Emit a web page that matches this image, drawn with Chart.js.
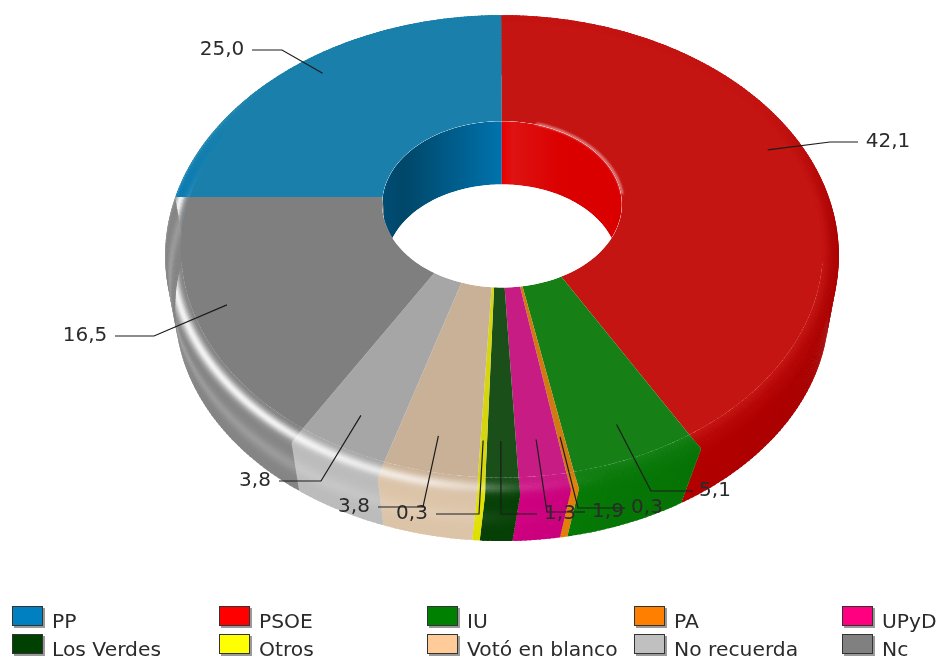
<!DOCTYPE html>
<html>
<head>
<meta charset="utf-8">
<title>Recuerdo de voto</title>
<script src="https://cdn.jsdelivr.net/npm/chart.js@4"></script>
<style>
  html, body { margin: 0; padding: 0; background: #fff; overflow: hidden; }
  canvas { display: block; }
</style>
</head>
<body>
<canvas id="pieChart" width="938" height="657"></canvas>
<script>
// Data
const categories = ['PP', 'PSOE', 'IU', 'PA', 'UPyD', 'Los Verdes', 'Otros', 'Votó en blanco', 'No recuerda', 'Nc'];
const values = [25.0, 42.1, 5.1, 0.3, 1.9, 1.3, 0.3, 3.8, 3.8, 16.5];
const valueLabels = ['25,0', '42,1', '5,1', '0,3', '1,9', '1,3', '0,3', '3,8', '3,8', '16,5'];

// Colours
const legendColors = ['#0080c0', '#ff0000', '#008000', '#ff8000', '#ff0080', '#004000', '#ffff00', '#ffcc99', '#c0c0c0', '#808080'];
const surfaceColors = ['#1a80ab', '#c41513', '#168016', '#d07a10', '#c81c85', '#1a4f1a', '#d6d60f', '#c9b197', '#a6a6a6', '#7f7f7f'];
const wallColors = ['#0078b4', '#c00000', '#067c06', '#e8820a', '#cf0080', '#064006', '#e0e000', '#dcc4a8', '#bcbcbc', '#858585'];

// Leader lines: elbow x, text-side end x, y of the horizontal part, text centre x
const leaderLayout = [
  [282, 252, 50, 222],
  [830, 858, 142, 888],
  [651, 693, 491, 715],
  [578, 625, 508, 647],
  [547, 585, 512, 608],
  [501, 537, 514, 560],
  [479, 436, 514, 412],
  [423, 378, 507, 354],
  [321, 279, 481, 255],
  [154, 115, 336, 85]
];

// Perspective of the disc
const CX = 502, CY = 197, FX = 327, FY = 226, PERSP = 0.2417;
const SHRINK = 0.97, BOTTOM_Y = 252, HOLE_BOTTOM_Y = 258;
const FLAT_R = 0.955;
const CUTOUT = 0.365;
const DEG = Math.PI / 180;

function clockDeg(a) {
  return ((a + Math.PI / 2) / DEG + 720) % 360;
}

function lerpTable(table, x) {
  for (let i = 1; i < table.length; i++) {
    if (x <= table[i][0]) {
      const [x0, y0] = table[i - 1], [x1, y1] = table[i];
      return y0 + (y1 - y0) * (x - x0) / (x1 - x0);
    }
  }
  return 0;
}

// small angle corrections so the wedges fall where the reference has them
const surfaceWarp = [[0, 0], [90, 0], [150, 1.5], [210, 1], [270, 0], [360, 0]];
const wallWarp = [[0, 0], [90, 0], [150, 2.5], [170, 1.3], [185, 0.7], [197, -0.3], [270, 0], [360, 0]];

function project(r, a) {
  const fade = Math.max(0, (1 - r) / 0.635);
  const b = a + lerpTable(surfaceWarp, clockDeg(a)) * fade * DEG;
  const u = r * Math.cos(b), v = r * Math.sin(b);
  const w = 1 - PERSP * v;
  return [CX + FX * u / w, CY + FY * v / w];
}

function lower(p, baseY) {
  return [CX + (p[0] - CX) * SHRINK, baseY + (p[1] - CY) * SHRINK];
}

function rgb(hex) {
  return [1, 3, 5].map(i => parseInt(hex.substr(i, 2), 16));
}
function mix(c1, c2, t) {
  return c1.map((c, i) => c + (c2[i] - c) * t);
}
function scale(c, f) {
  return c.map(v => Math.min(255, v * f));
}
function css(c) {
  return 'rgb(' + c.map(Math.round).join(',') + ')';
}
function clamp(x) {
  return Math.max(0, Math.min(1, x));
}

function fillPoly(ctx, pts, color) {
  ctx.beginPath();
  pts.forEach((p, i) => i ? ctx.lineTo(p[0], p[1]) : ctx.moveTo(p[0], p[1]));
  ctx.closePath();
  ctx.fillStyle = color;
  ctx.fill();
}

// White highlight along the rim, strongest on the lower left
const highlightTable = [[0, 0], [165, 0], [178, 0.12], [190, 0.6], [215, 0.9], [270, 0.9], [305, 0], [360, 0]];

function rimColor(i, a, p) {
  const surface = rgb(surfaceColors[i]);
  const u = Math.cos(a), v = Math.sin(a);
  const wall = scale(rgb(wallColors[i]), 1 - 0.14 * clamp(u));
  const front = clamp((v + 0.45) / 0.6);
  let c;
  if (p < 0.2) c = mix(surface, mix(surface, wall, 0.6), p / 0.2);
  else if (p < 0.5) c = mix(mix(surface, wall, 0.6), wall, (p - 0.2) / 0.3);
  else c = wall;
  c = mix(surface, c, front);
  const h = lerpTable(highlightTable, clockDeg(a));
  const glow = h * Math.exp(-Math.pow((p - 0.22) / 0.12, 2)) + 0.2 * h * Math.exp(-Math.pow((p - 0.68) / 0.1, 2));
  return mix(c, [255, 255, 255], clamp(glow));
}

function rimPoint(a, p) {
  if (p <= 0.4) return project(FLAT_R + (1 - FLAT_R) * p / 0.4, a);
  const top = project(1, a);
  const bot = lower(project(1, a + lerpTable(wallWarp, clockDeg(a)) * DEG), BOTTOM_Y);
  const t = (p - 0.4) / 0.6;
  return [top[0] + (bot[0] - top[0]) * t, top[1] + (bot[1] - top[1]) * t];
}

function holeShade(i, u) {
  const base = rgb(legendColors[i]);
  if (u > 0) return mix(scale(base, 0.86), [255, 255, 255], 0.09 * clamp(1 - u * 2.2));
  if (u > -0.75) return scale(base, 0.9 - 0.35 * (-u / 0.75));
  return scale(base, 0.55 + 0.28 * (-u - 0.75));
}

function ringPath(ctx, r, baseY) {
  for (let k = 0; k <= 120; k++) {
    let p = project(r, k * Math.PI / 60);
    if (baseY !== undefined) p = lower(p, baseY);
    k ? ctx.lineTo(p[0], p[1]) : ctx.moveTo(p[0], p[1]);
  }
  ctx.closePath();
}

function arcSteps(arc, stepDeg) {
  return Math.max(1, Math.ceil((arc.endAngle - arc.startAngle) / (stepDeg * DEG)));
}

// Doughnut in perspective, drawn from the angles and radii of the chart's own arcs
const discPlugin = {
  id: 'disc3d',
  beforeDatasetsDraw(chart) {
    const ctx = chart.ctx;
    const arcs = chart.getDatasetMeta(0).data;

    ctx.save();
    // rim and outer wall; quads overlap the next one so no seams show
    const bands = 32;
    arcs.forEach((arc, i) => {
      const n = arcSteps(arc, 0.75);
      const da = (arc.endAngle - arc.startAngle) / n;
      for (let k = 0; k < n; k++) {
        const a0 = arc.startAngle + k * da;
        const a1 = a0 + da;
        const a2 = k < n - 1 ? a1 + da * 0.5 : a1;
        for (let b = bands - 1; b >= 0; b--) {
          const p0 = b / bands;
          const p1 = Math.min(1, (b + 1.5) / bands);
          fillPoly(ctx, [rimPoint(a0, p0), rimPoint(a2, p0), rimPoint(a2, p1), rimPoint(a0, p1)],
            css(rimColor(i, (a0 + a1) / 2, (b + 0.5) / bands)));
        }
      }
    });

    // flat top
    arcs.forEach((arc, i) => {
      const inner = arc.innerRadius / arc.outerRadius;
      const n = arcSteps(arc, 1);
      const pts = [];
      const span = arc.endAngle - arc.startAngle;
      for (let k = 0; k <= n; k++) pts.push(project(FLAT_R, arc.startAngle + span * k / n));
      for (let k = n; k >= 0; k--) pts.push(project(inner, arc.startAngle + span * k / n));
      fillPoly(ctx, pts, surfaceColors[i]);
    });

    // hole: white first, then the back wall between the upper and lower edges
    const inner = arcs[0].innerRadius / arcs[0].outerRadius;
    ctx.beginPath();
    ringPath(ctx, inner);
    ctx.fillStyle = '#fff';
    ctx.fill();

    ctx.save();
    ctx.beginPath();
    ringPath(ctx, inner);
    ctx.clip();
    ctx.beginPath();
    ctx.rect(0, 0, chart.width, chart.height);
    ringPath(ctx, inner, HOLE_BOTTOM_Y);
    ctx.clip('evenodd');
    const halfWidth = FX * inner + 12;
    arcs.forEach((arc, i) => {
      const n = arcSteps(arc, 1);
      const span = arc.endAngle - arc.startAngle;
      const top = [], bottom = [];
      for (let k = 0; k <= n; k++) {
        const p = project(inner, arc.startAngle + span * k / n);
        top.push(p);
        bottom.unshift(lower(p, HOLE_BOTTOM_Y));
      }
      const grad = ctx.createLinearGradient(CX - halfWidth, 0, CX + halfWidth, 0);
      for (let s = 0; s <= 24; s++) {
        const t = s / 24;
        grad.addColorStop(t, css(holeShade(i, (2 * t - 1) * 1.02)));
      }
      fillPoly(ctx, top.concat(bottom), grad);
    });
    ctx.restore();

    // shine on the upper right lip of the hole
    ctx.save();
    ctx.filter = 'blur(1px)';
    ctx.strokeStyle = 'rgba(255,255,255,0.6)';
    ctx.lineWidth = 2;
    ctx.beginPath();
    for (let d = -72; d <= -2; d += 2) {
      const p = project(inner + 0.004, d * DEG);
      d === -72 ? ctx.moveTo(p[0], p[1]) : ctx.lineTo(p[0], p[1]);
    }
    ctx.stroke();
    ctx.restore();
    ctx.restore();
    return false;
  },
  afterDraw(chart) {
    const ctx = chart.ctx;
    const arcs = chart.getDatasetMeta(0).data;
    ctx.save();

    // leader lines and values
    ctx.font = '20px "DejaVu Sans"';
    ctx.textAlign = 'center';
    ctx.textBaseline = 'middle';
    arcs.forEach((arc, i) => {
      const [elbowX, endX, y, textX] = leaderLayout[i];
      const mid = (arc.startAngle + arc.endAngle) / 2;
      const anchor = project(0.878 - 0.022 * Math.sin(mid), mid);
      ctx.strokeStyle = '#1c1c1c';
      ctx.lineWidth = 1.2;
      ctx.beginPath();
      ctx.moveTo(anchor[0], anchor[1]);
      ctx.lineTo(elbowX, y);
      ctx.lineTo(endX, y);
      ctx.stroke();
      ctx.fillStyle = '#2b2b2b';
      ctx.fillText(valueLabels[i], textX, y);
    });

    // legend, five columns by two rows
    ctx.font = '20.3px "DejaVu Sans"';
    ctx.textAlign = 'left';
    ctx.textBaseline = 'alphabetic';
    categories.forEach((name, i) => {
      const x = 12 + Math.floor((i % 5) * 207.5);
      const y = 606 + Math.floor(i / 5) * 28;
      ctx.fillStyle = '#9a9a9a';
      ctx.fillRect(x + 2, y + 2, 31, 20);
      ctx.fillStyle = legendColors[i];
      ctx.fillRect(x, y, 31, 20);
      ctx.strokeStyle = '#333';
      ctx.lineWidth = 1;
      ctx.strokeRect(x + 0.5, y + 0.5, 30, 19);
      ctx.fillStyle = '#2b2b2b';
      ctx.fillText(name, x + 40, y + 22);
    });
    ctx.restore();
  }
};

new Chart(document.getElementById('pieChart').getContext('2d'), {
  type: 'doughnut',
  data: {
    labels: categories,
    datasets: [{ data: values, backgroundColor: legendColors, borderWidth: 0 }]
  },
  options: {
    responsive: false,
    animation: false,
    rotation: -90,
    cutout: (CUTOUT * 100) + '%',
    plugins: { legend: { display: false }, tooltip: { enabled: false } }
  },
  plugins: [discPlugin]
});
</script>
</body>
</html>
